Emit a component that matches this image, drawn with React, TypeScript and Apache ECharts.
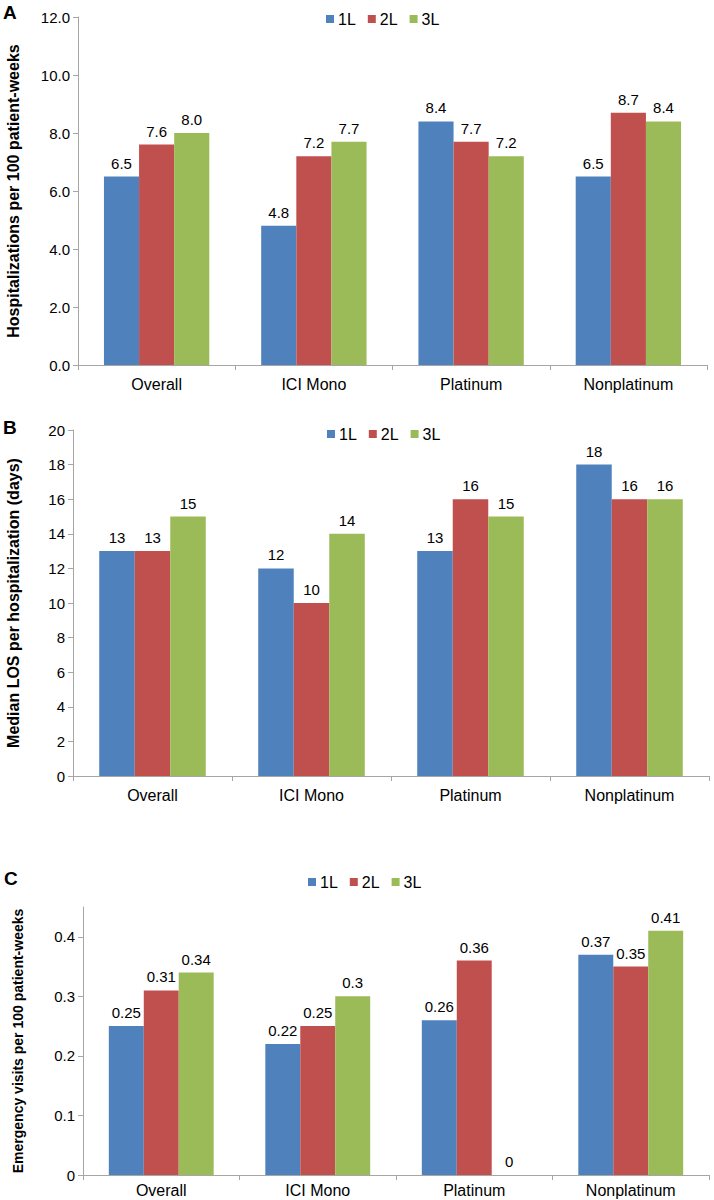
import React, { useEffect, useRef } from "react";
import * as echarts from "echarts";

const categories = ["Overall", "ICI Mono", "Platinum", "Nonplatinum"];
const seriesNames = ["1L", "2L", "3L"];
const colors = ["#4F81BD", "#C0504D", "#9BBB59"];

// Panel A: Hospitalizations per 100 patient-weeks
const hospL1 = [6.5, 4.8, 8.4, 6.5];
const hospL2 = [7.6, 7.2, 7.7, 8.7];
const hospL3 = [8.0, 7.7, 7.2, 8.4];

// Panel B: Median LOS per hospitalization (days)
const losL1 = [13, 12, 13, 18];
const losL2 = [13, 10, 16, 16];
const losL3 = [15, 14, 15, 16];

// Panel C: Emergency visits per 100 patient-weeks
const erL1 = [0.25, 0.22, 0.26, 0.37];
const erL2 = [0.31, 0.25, 0.36, 0.35];
const erL3 = [0.34, 0.3, 0, 0.41];

const ticksA = [0, 2, 4, 6, 8, 10, 12];
const ticksB = [0, 2, 4, 6, 8, 10, 12, 14, 16, 18, 20];
const ticksC = [0, 0.1, 0.2, 0.3, 0.4];

const FONT = "Liberation Sans, Arial, sans-serif";
const AXIS_GRAY = "#a6a6a6";

export default function App() {
  const ref = useRef<HTMLDivElement>(null);
  useEffect(() => {
    if (!ref.current) return;
    const chart = echarts.init(ref.current, undefined, { renderer: "svg" });

    const grids = [
      { left: 78, right: 7, top: 17, height: 348, outerBoundsMode: "none", containLabel: false },
      { left: 73, right: 5, top: 430, height: 346, outerBoundsMode: "none", containLabel: false },
      { left: 83, right: 5, top: 907, height: 268, outerBoundsMode: "none", containLabel: false },
    ];
    const yDefs = [
      { max: 12, ticks: ticksA, fmt: (v: number) => v.toFixed(1), name: "Hospitalizations per 100 patient-weeks", gap: 57, size: 16 },
      { max: 20, ticks: ticksB, fmt: (v: number) => String(v), name: "Median LOS per hospitalization (days)", gap: 52, size: 16 },
      { max: 0.45, ticks: ticksC, fmt: (v: number) => String(Math.round(v * 10) / 10), name: "Emergency visits per 100 patient-weeks", gap: 58, size: 14 },
    ];
    const data = [
      [hospL1, hospL2, hospL3],
      [losL1, losL2, losL3],
      [erL1, erL2, erL3],
    ];
    const labelFmts = [
      (v: number) => v.toFixed(1),
      (v: number) => String(v),
      (v: number) => String(v),
    ];
    const legendPos = [
      { left: 321, top: 6 },
      { left: 322, top: 421 },
      { left: 303, top: 869 },
    ];
    const xMargins = [11, 11, 7];

    const xAxis = grids.map((_, i) => ({
      type: "category",
      gridIndex: i,
      data: categories,
      axisLine: { lineStyle: { color: AXIS_GRAY, width: 1 } },
      axisTick: { show: true, length: 5, lineStyle: { color: AXIS_GRAY } },
      axisLabel: { color: "#000", fontFamily: FONT, fontSize: 16, margin: xMargins[i] },
    }));

    const yAxis = yDefs.map((d, i) => ({
      type: "value",
      gridIndex: i,
      min: 0,
      max: d.max,
      name: d.name,
      nameLocation: "middle",
      nameGap: d.gap,
      nameRotate: 90,
      nameTextStyle: { fontFamily: FONT, fontSize: d.size, fontWeight: "bold", color: "#000" },
      axisLine: { show: true, lineStyle: { color: AXIS_GRAY, width: 1 } },
      axisTick: { show: true, length: 5, lineStyle: { color: AXIS_GRAY }, customValues: d.ticks },
      axisLabel: {
        color: "#000",
        fontFamily: FONT,
        fontSize: 15,
        margin: 8,
        customValues: d.ticks,
        formatter: (v: number) => d.fmt(v),
      },
      splitLine: { show: false },
    }));

    const series: any[] = [];
    data.forEach((panel, gi) => {
      panel.forEach((vals, si) => {
        series.push({
          type: "bar",
          name: seriesNames[si],
          xAxisIndex: gi,
          yAxisIndex: gi,
          data: vals,
          barGap: "0%",
          barCategoryGap: "33%",
          itemStyle: { color: colors[si] },
          label: {
            show: true,
            position: "top",
            distance: 6,
            color: "#000",
            fontFamily: FONT,
            fontSize: 15,
            formatter: (p: any) => labelFmts[gi](p.value),
          },
        });
      });
    });

    const legend = legendPos.map((p) => ({
      data: seriesNames,
      left: p.left,
      top: p.top,
      itemWidth: 8,
      itemHeight: 8,
      itemGap: 12,
      icon: "rect",
      textStyle: { fontFamily: FONT, fontSize: 16, color: "#000", padding: [0, 0, 0, -1] },
      selectedMode: false,
    }));

    const letters = [
      { t: "A", x: 3, y: 3 },
      { t: "B", x: 3, y: 418 },
      { t: "C", x: 4, y: 869 },
    ];

    chart.setOption({
      animation: false,
      backgroundColor: "#fff",
      grid: grids,
      xAxis,
      yAxis,
      series,
      legend,
      graphic: letters.map((l) => ({
        type: "text",
        left: l.x,
        top: l.y,
        style: { text: l.t, fontFamily: FONT, fontSize: 19, fontWeight: "bold", fill: "#000" },
      })),
    });
    return () => chart.dispose();
  }, []);
  return (
    <div
      ref={ref}
      style={{ position: "absolute", left: 0, top: 0, width: 714, height: 1200 }}
    />
  );
}
